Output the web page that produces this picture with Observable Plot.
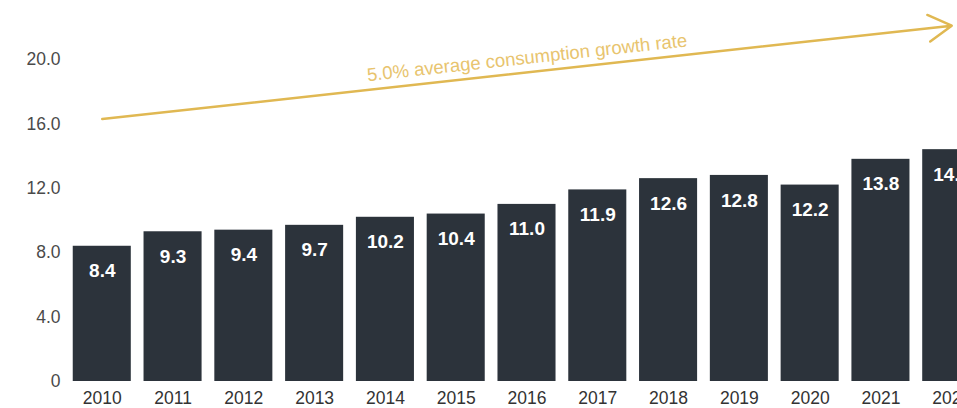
<!DOCTYPE html>
<html>
<head>
<meta charset="utf-8">
<script src="https://cdn.jsdelivr.net/npm/d3@7"></script>
<script src="https://cdn.jsdelivr.net/npm/@observablehq/plot@0.6"></script>
<style>
  html, body { margin: 0; padding: 0; background: #fff; overflow: hidden; }
  #chart { width: 957px; height: 408px; overflow: hidden; }
  #chart svg { max-width: none !important; width: 1000px; height: 408px; display: block; }
</style>
</head>
<body>
<div id="chart"></div>
<script>
const years = ["2010","2011","2012","2013","2014","2015","2016","2017","2018","2019","2020","2021","2022"];
const values = [8.4, 9.3, 9.4, 9.7, 10.2, 10.4, 11.0, 11.9, 12.6, 12.8, 12.2, 13.8, 14.4];
const yTicks = [0, 4, 8, 12, 16, 20];
const trendLabel = "5.0% average consumption growth rate";
const trendStart = {year: "2010", value: 16.3};
const trendEnd = {year: "2022", value: 22.1};
const trendLabelPos = {year: "2016", value: 20.1};

const data = years.map((y, i) => ({year: y, value: values[i]}));

const chart = Plot.plot({
  width: 1000,
  height: 408,
  marginLeft: 60,
  marginRight: 7,
  marginTop: 59,
  marginBottom: 27,
  style: {fontFamily: "'Liberation Sans', Arial, sans-serif", background: "#fff", maxWidth: "none"},
  x: {domain: years, padding: 0.18, round: false, label: null, tickSize: 0},
  y: {domain: [0, 20], ticks: yTicks, label: null, tickSize: 0,
      tickFormat: d => d === 0 ? "0" : d.toFixed(1)},
  marks: [
    Plot.barY(data, {x: "year", y: "value", fill: "#2c333b"}),
    Plot.text(data, {x: "year", y: "value", text: d => d.value.toFixed(1), fill: "#fff",
      fontWeight: "bold", fontSize: 19, dy: 25}),
    Plot.arrow([{}], {x1: () => trendStart.year, y1: () => trendStart.value,
      x2: () => trendEnd.year, y2: () => trendEnd.value,
      stroke: "#e0b852", strokeWidth: 2.5, headLength: 16}),
    Plot.text([trendLabelPos], {x: "year", y: "value", text: () => trendLabel,
      rotate: -6.2, fill: "#e8c46e", fontSize: 18.5}),
    Plot.axisY({ticks: yTicks, tickSize: 0, tickPadding: 0, fontSize: 17.5, color: "#4a4a4a",
      tickFormat: d => d === 0 ? "0" : d.toFixed(1)}),
    Plot.axisX({tickSize: 0, tickPadding: 10, fontSize: 17.5, color: "#333"})
  ]
});
document.getElementById("chart").appendChild(chart);
</script>
</body>
</html>
